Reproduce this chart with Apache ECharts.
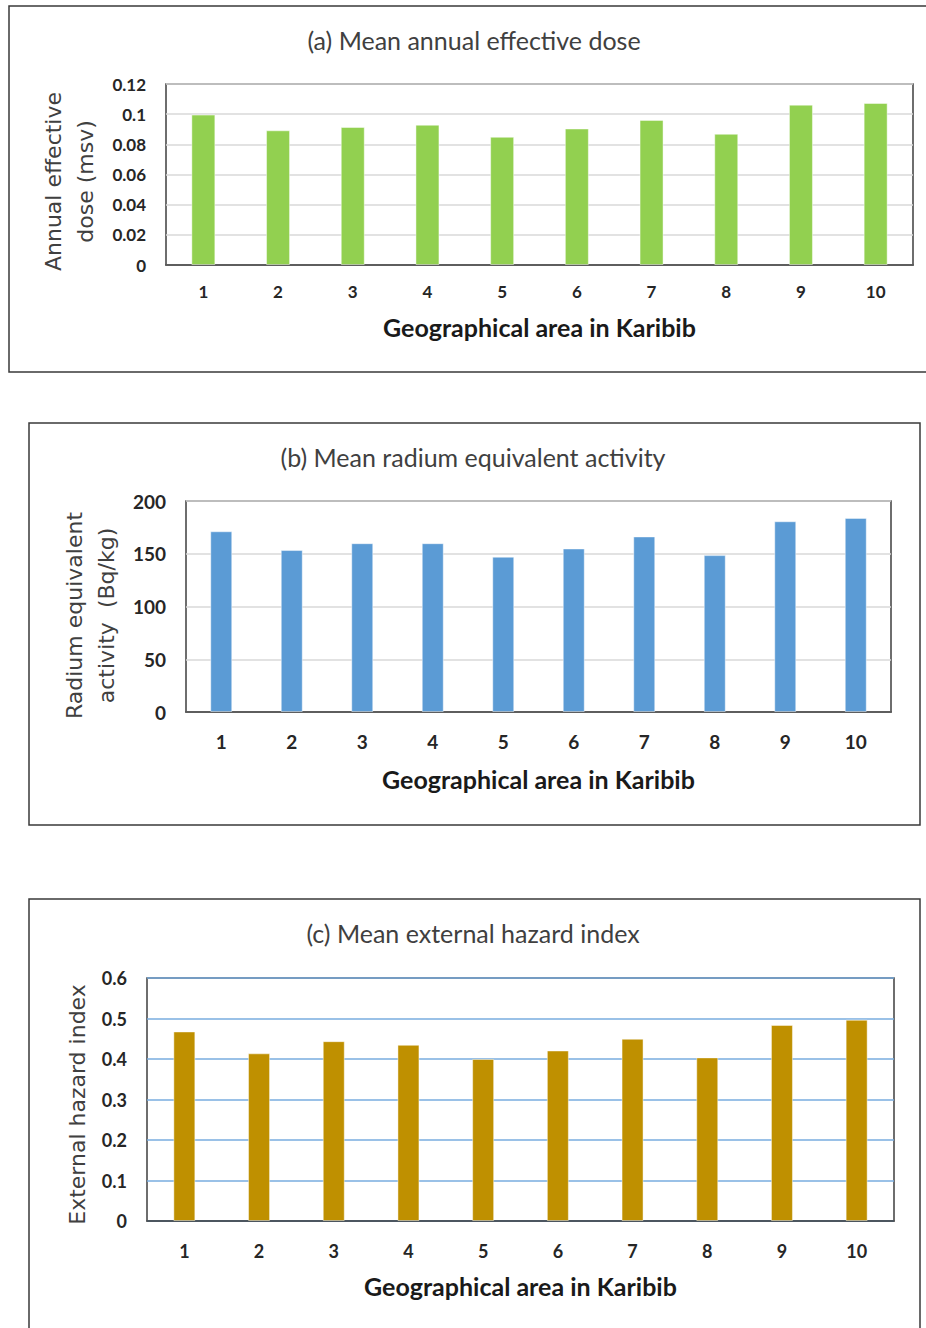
<!DOCTYPE html>
<html>
<head>
<meta charset="utf-8">
<script src="https://cdn.jsdelivr.net/npm/echarts@6/dist/echarts.min.js"></script>
<style>
  html, body { margin: 0; padding: 0; background: #ffffff; }
  #chart { width: 926px; height: 1328px; }
</style>
</head>
<body>
<div id="chart"></div>
<script>
// ---- Data ----
const categories = ['1', '2', '3', '4', '5', '6', '7', '8', '9', '10'];

const doseTitle = '(a) Mean annual effective dose';
const doseAxisName = 'Annual effective\ndose (msv)';
const doseValues = [0.0997, 0.0893, 0.0915, 0.0930, 0.0850, 0.0905, 0.0962, 0.0870, 0.1063, 0.1074];
const doseTicks = [0, 0.12, 0.02]; // min, max, step

const raeqTitle = '(b) Mean radium equivalent activity';
const raeqAxisName = 'Radium equivalent\nactivity  (Bq/kg)';
const raeqValues = [171.3, 153.5, 160.0, 160.0, 147.2, 155.0, 166.4, 148.7, 180.8, 184.0];
const raeqTicks = [0, 200, 50];

const hexTitle = '(c) Mean external hazard index';
const hexAxisName = 'External hazard index';
const hexValues = [0.468, 0.414, 0.444, 0.435, 0.400, 0.421, 0.450, 0.404, 0.484, 0.497];
const hexTicks = [0, 0.6, 0.1];

const xAxisTitle = 'Geographical area in Karibib';

// ---- Chart ----
const chart = echarts.init(document.getElementById('chart'), null, { renderer: 'svg' });

const textDark = '#262626';
const textGray = '#404040';
const frame = '#3f3f3f';

function grid(left, top, width, height) {
  return { left, top, width, height, show: true, borderColor: frame, borderWidth: 1.5, backgroundColor: 'transparent', containLabel: false };
}

function xAxis(gridIndex, fontSize, labelMargin, nameGap, nameSize) {
  return {
    type: 'category', gridIndex, data: categories,
    axisTick: { show: false },
    axisLine: { show: true, lineStyle: { color: frame, width: 1.5 } },
    axisLabel: { color: textDark, fontFamily: 'Lato', fontWeight: 'bold', fontSize, margin: labelMargin },
    name: xAxisTitle, nameLocation: 'middle', nameGap,
    nameTextStyle: { color: '#1a1a1a', fontFamily: 'Lato', fontWeight: 'bold', fontSize: nameSize }
  };
}

function yAxis(gridIndex, ticks, name, nameGap, fontSize, splitColor, lineHeight, shift) {
  return {
    type: 'value', gridIndex, min: ticks[0], max: ticks[1], interval: ticks[2],
    axisTick: { show: false },
    axisLine: { show: false },
    axisLabel: { color: textDark, fontFamily: 'Lato', fontWeight: 'bold', fontSize, margin: 20 },
    splitLine: { show: true, lineStyle: { color: splitColor, width: 1.5 } },
    name, nameLocation: 'middle', nameRotate: 90, nameGap,
    nameTextStyle: { color: textGray, fontFamily: 'DejaVu Sans', fontSize: 22, lineHeight, padding: [0, shift, 0, 0] }
  };
}

function bars(idx, values, color, width) {
  return {
    type: 'bar', xAxisIndex: idx, yAxisIndex: idx, data: values,
    barWidth: width,
    itemStyle: { color, borderColor: 'rgba(255,255,255,0.45)', borderWidth: 1 },
    silent: true, animation: false
  };
}

function titleText(text, x, y) {
  return {
    type: 'text', x, y, silent: true,
    style: { text, fill: textGray, font: '25px Lato', textAlign: 'center', textVerticalAlign: 'middle' }
  };
}

function box(x, y, w, h) {
  return {
    type: 'rect', silent: true, z: -10,
    shape: { x, y, width: w, height: h },
    style: { fill: 'transparent', stroke: '#3a3a3a', lineWidth: 1.5 }
  };
}

const option = {
  animation: false,
  backgroundColor: '#ffffff',
  grid: [
    grid(166, 84, 747, 181),
    grid(186, 501, 705, 211),
    grid(147, 978, 747, 243)
  ],
  xAxis: [
    xAxis(0, 17, 18, 49, 25),
    xAxis(1, 19, 20, 54, 25),
    xAxis(2, 18, 21, 52, 25)
  ],
  yAxis: [
    yAxis(0, doseTicks, doseAxisName, 60, 17, '#d9d9d9', 32, 14),
    yAxis(1, raeqTicks, raeqAxisName, 59, 19, '#d9d9d9', 32, 18),
    yAxis(2, hexTicks, hexAxisName, 58, 18, '#79addf', 24, 10)
  ],
  series: [
    bars(0, doseValues, '#92d050', 24),
    bars(1, raeqValues, '#5b9bd5', 22),
    bars(2, hexValues, '#bf9000', 22)
  ],
  graphic: [
    box(9, 6, 930, 366),
    box(29, 423, 891, 402),
    box(29, 899, 891, 460),
    titleText(doseTitle, 474, 40),
    titleText(raeqTitle, 473, 457),
    titleText(hexTitle, 473, 933)
  ]
};

chart.setOption(option);
</script>
</body>
</html>
